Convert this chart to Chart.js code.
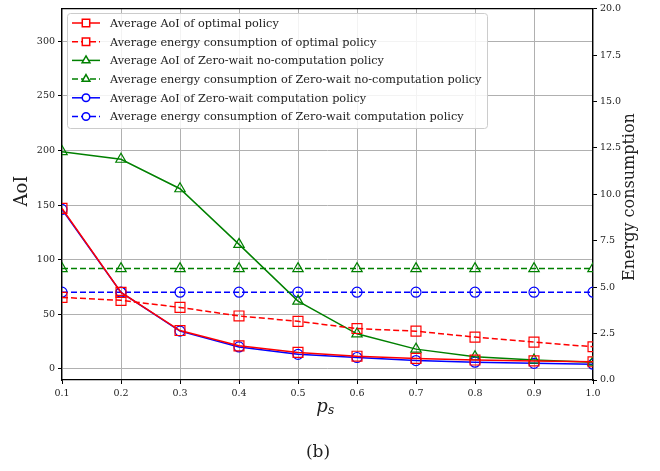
<!DOCTYPE html>
<html>
<head>
<meta charset="utf-8">
<script src="https://cdn.jsdelivr.net/npm/chart.js@4.4.1/dist/chart.umd.min.js"></script>
<style>
  body { margin: 0; background: #fff; }
  canvas { display: block; }
</style>
</head>
<body>
<canvas id="myChart" width="660" height="471"></canvas>
<script>
// x values (p_s)
var ps = [0.1, 0.2, 0.3, 0.4, 0.5, 0.6, 0.7, 0.8, 0.9, 1.0];

// AoI series (left axis)
var aoiOptimal = [147, 70, 35, 21, 15, 11.5, 9.5, 8, 7.2, 6.4];
var aoiZwNoComp = [199, 192, 165, 114, 62, 32, 18, 11, 8, 6];
var aoiZwComp = [146, 70, 34.5, 20, 13.2, 10.3, 7.5, 6, 5, 4.2];

// energy series (right axis)
var energyOptimal = [4.45, 4.29, 3.91, 3.45, 3.16, 2.77, 2.63, 2.31, 2.04, 1.79];
var energyZwNoComp = [6.0, 6.0, 6.0, 6.0, 6.0, 6.0, 6.0, 6.0, 6.0, 6.0];
var energyZwComp = [4.73, 4.73, 4.73, 4.73, 4.73, 4.73, 4.73, 4.73, 4.73, 4.73];

var aoiTicks = [0, 50, 100, 150, 200, 250, 300];

var SERIF = "'DejaVu Serif', serif";
var RED = '#ff0000', GREEN = '#008000', BLUE = '#0000ff';

function pts(vals) {
	return vals.map(function (v, i) { return { x: ps[i], y: v }; });
}

function series(label, vals, color, dashed, style, radius, axis) {
	return {
		label: label,
		data: pts(vals),
		yAxisID: axis,
		borderColor: color,
		backgroundColor: color,
		borderWidth: 1.5,
		borderDash: dashed ? [6, 3] : [],
		pointStyle: style,
		pointRadius: radius,
		pointBorderColor: color,
		pointBackgroundColor: 'rgba(0,0,0,0)',
		pointBorderWidth: 1.2,
		tension: 0,
		fill: false
	};
}

var datasets = [
	series('Average AoI of optimal policy', aoiOptimal, RED, false, 'rect', 7, 'y'),
	series('Average energy consumption of optimal policy', energyOptimal, RED, true, 'rect', 7, 'y1'),
	series('Average AoI of Zero-wait no-computation policy', aoiZwNoComp, GREEN, false, 'triangle', 6, 'y'),
	series('Average energy consumption of Zero-wait no-computation policy', energyZwNoComp, GREEN, true, 'triangle', 6, 'y1'),
	series('Average AoI of Zero-wait computation policy', aoiZwComp, BLUE, false, 'circle', 5, 'y'),
	series('Average energy consumption of Zero-wait computation policy', energyZwComp, BLUE, true, 'circle', 5, 'y1')
];

// frame, legend box and the free text
var extras = {
	id: 'extras',
	afterDraw: function (chart) {
		var ctx = chart.ctx, a = chart.chartArea;
		ctx.save();

		// top spine
		ctx.strokeStyle = '#000';
		ctx.lineWidth = 1.2;
		ctx.beginPath();
		ctx.moveTo(a.left, a.top);
		ctx.lineTo(a.right, a.top);
		ctx.stroke();

		// legend
		var x0 = 67, y0 = 13, w = 420, h = 115;
		ctx.fillStyle = 'rgba(255,255,255,0.85)';
		ctx.strokeStyle = '#cccccc';
		ctx.lineWidth = 1;
		ctx.beginPath();
		ctx.roundRect(x0 + 0.5, y0 + 0.5, w, h, 3);
		ctx.fill();
		ctx.stroke();

		ctx.font = '11.3px ' + SERIF;
		ctx.textBaseline = 'middle';
		ctx.textAlign = 'left';
		chart.data.datasets.forEach(function (ds, i) {
			var yy = 23 + i * 18.7;
			ctx.strokeStyle = ds.borderColor;
			ctx.lineWidth = 1.5;
			ctx.setLineDash(ds.borderDash);
			ctx.beginPath();
			ctx.moveTo(72, yy);
			ctx.lineTo(100, yy);
			ctx.stroke();
			ctx.setLineDash([]);
			ctx.fillStyle = '#fff';
			Chart.helpers.drawPoint(ctx, {
				pointStyle: ds.pointStyle,
				radius: ds.pointRadius * 0.75,
				rotation: 0,
				borderWidth: 1.2
			}, 86, yy);
			ctx.fillStyle = '#222';
			ctx.fillText(ds.label, 110, yy + 1);
		});

		// axis titles
		ctx.fillStyle = '#222';
		ctx.textAlign = 'center';
		ctx.font = '18px ' + SERIF;
		ctx.save();
		ctx.translate(22, 191);
		ctx.rotate(-Math.PI / 2);
		ctx.fillText('AoI', 0, 0);
		ctx.restore();
		ctx.font = '16px ' + SERIF;
		ctx.save();
		ctx.translate(630, 197);
		ctx.rotate(-Math.PI / 2);
		ctx.fillText('Energy consumption', 0, 0);
		ctx.restore();

		ctx.font = 'italic 18px ' + SERIF;
		ctx.fillText('p', 322, 407);
		ctx.font = 'italic 12px ' + SERIF;
		ctx.fillText('s', 331, 411);

		ctx.font = '17px ' + SERIF;
		ctx.fillText('(b)', 318, 453);
		ctx.restore();
	}
};

var tickFont = { family: SERIF, size: 9.5 };

var myChart = new Chart(document.getElementById('myChart'), {
	type: 'line',
	data: { datasets: datasets },
	options: {
		responsive: false,
		animation: false,
		layout: { padding: { top: 7, left: 0, right: 0, bottom: 0 } },
		plugins: {
			legend: { display: false },
			tooltip: { enabled: false }
		},
		scales: {
			x: {
				type: 'linear',
				min: 0.1,
				max: 1.0,
				ticks: {
					stepSize: 0.1,
					font: tickFont,
					color: '#222',
					padding: 4,
					maxRotation: 0,
					callback: function (v) { return v.toFixed(1); }
				},
				grid: { color: '#b0b0b0', lineWidth: 1, tickColor: '#000', tickLength: 4 },
				border: { color: '#000', width: 1.2 },
				afterFit: function (s) { s.height = 91; }
			},
			y: {
				position: 'left',
				min: -10.3,
				max: 330,
				afterBuildTicks: function (s) {
					s.ticks = aoiTicks.map(function (v) { return { value: v }; });
				},
				ticks: { font: tickFont, color: '#222', padding: 3 },
				grid: { color: '#b0b0b0', lineWidth: 1, tickColor: '#000', tickLength: 4 },
				border: { color: '#000', width: 1.2 },
				afterFit: function (s) { s.width = 62; }
			},
			y1: {
				position: 'right',
				min: 0,
				max: 20,
				ticks: {
					stepSize: 2.5,
					font: tickFont,
					color: '#222',
					padding: 3,
					callback: function (v) { return v.toFixed(1); }
				},
				grid: { drawOnChartArea: false, tickColor: '#000', tickLength: 4 },
				border: { color: '#000', width: 1.2 },
				afterFit: function (s) { s.width = 67; }
			}
		}
	},
	plugins: [extras]
});
</script>
</body>
</html>
